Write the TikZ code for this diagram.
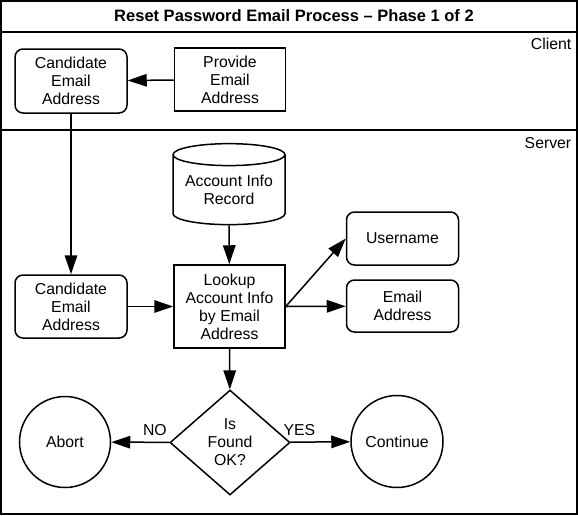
\documentclass[tikz,border=0pt]{standalone}
\usepackage{fontspec}
\setmainfont{Liberation Sans}
\usetikzlibrary{arrows.meta,shapes.geometric}

\begin{document}
\begin{tikzpicture}[x=1pt,y=1pt,line width=1.5pt,
    >={Triangle[length=19pt,width=12.5pt]},
    every node/.style={font=\fontsize{15.8}{18}\selectfont,align=center,inner sep=0pt},
    data node/.style={draw,rounded corners=8pt,minimum width=112pt,minimum height=63pt},
    task node/.style={draw,rectangle,minimum width=111pt,minimum height=63pt},
    store node/.style={draw,cylinder,shape border rotate=90,aspect=0.25,
                       minimum width=112pt,minimum height=81pt},
    decide node/.style={draw,diamond,minimum width=120pt,minimum height=105pt},
    end node/.style={draw,circle,minimum size=91pt},
    lane label/.style={anchor=base east}]
  \useasboundingbox (0,0) rectangle (578,-515);

  % frame and swim lanes
  \draw (1,-1) rectangle (577,-514);
  \draw (1,-32) -- (577,-32);
  \draw (1,-130) -- (577,-130);
  \node[font=\fontsize{16.5}{18}\selectfont\bfseries] (title) at (294,-16) {Reset Password Email Process – Phase 1 of 2};
  \node[lane label] (client) at (572,-49) {Client};
  \node[lane label] (server) at (572,-148) {Server};

  % client
  \node[data node,minimum height=64pt] (cand1) at (71,-81) {Candidate\\Email\\Address};
  \node[task node] (prov) at (230,-79.5) {Provide\\Email\\Address};

  % server
  \node[store node] (rec) at (229,-190) {Account Info\\Record};
  \node[data node] (cand2) at (71,-306.5) {Candidate\\Email\\Address};
  \node[task node,minimum height=83pt] (look) at (229.5,-306.5) {Lookup\\Account Info\\by Email\\Address};
  \node[data node,minimum height=53pt] (user) at (402.5,-238.5) {Username};
  \node[data node,minimum height=52pt] (mail) at (402.5,-306) {Email\\Address};
  \node[decide node] (ok) at (230,-442.5) {Is\\Found\\OK?};
  \node[end node] (abort) at (65,-442) {Abort};
  \node[end node,minimum size=92pt] (cont) at (397,-441.5) {Continue};

  \draw[->] (prov) -- (cand1);
  \draw[->] (cand1) -- (cand2);
  \draw[->] (cand2) -- (look);
  \draw[->] (rec) -- (look);
  \draw[->] (look.east) -- (user.west);
  \draw[->] (look.east) -- (mail);
  \draw[->] (look) -- (ok);
  \draw[->] (ok) -- node[pos=0.25,above=6pt] {NO} (abort);
  \draw[->] (ok) -- node[pos=0.15,above=6pt] {YES} (cont);
\end{tikzpicture}
\end{document}
